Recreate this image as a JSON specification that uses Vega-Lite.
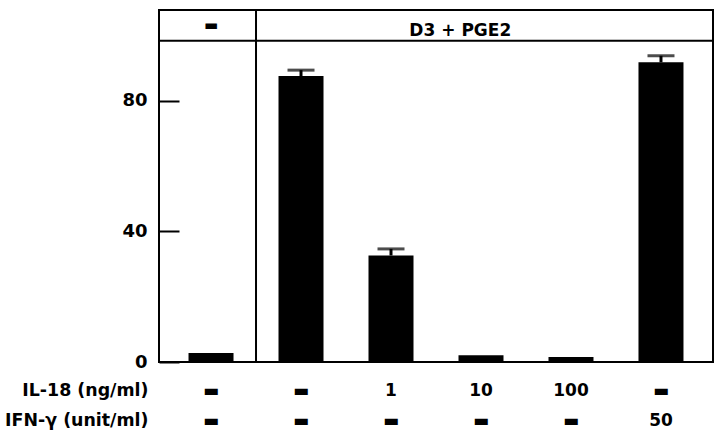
{
  "$schema": "https://vega.github.io/schema/vega-lite/v6.json",
  "width": 554,
  "height": 352,
  "autosize": {"type": "none"},
  "padding": {"left": 159, "top": 10, "right": 7, "bottom": 80},
  "background": "white",
  "config": {
    "view": {"stroke": "black", "strokeWidth": 2},
    "font": "DejaVu Sans"
  },
  "data": {
    "values": [
      {"cond": "ctrl|-|-", "group": "▬", "value": 2.75, "err": null},
      {"cond": "D3|-|-", "group": "D3 + PGE2", "value": 87.5, "err": 89.3},
      {"cond": "D3|1|-", "group": "D3 + PGE2", "value": 32.6, "err": 34.6},
      {"cond": "D3|10|-", "group": "D3 + PGE2", "value": 2.1, "err": null},
      {"cond": "D3|100|-", "group": "D3 + PGE2", "value": 1.5, "err": null},
      {"cond": "D3|-|50", "group": "D3 + PGE2", "value": 91.7, "err": 93.7}
    ]
  },
  "encoding": {
    "x": {
      "field": "cond",
      "type": "nominal",
      "sort": null,
      "scale": {"paddingInner": 0, "paddingOuter": 0.078},
      "axis": {
        "orient": "bottom",
        "ticks": false,
        "domain": false,
        "labelAngle": 0,
        "labelFont": "DejaVu Sans",
        "labelFontWeight": "bold",
        "labelFontSize": 17,
        "labelColor": "black",
        "labelPadding": 20,
        "labelBaseline": "top",
        "labelLineHeight": 30,
        "labelExpr": "[split(datum.label,'|')[1] == '-' ? '▬' : split(datum.label,'|')[1], split(datum.label,'|')[2] == '-' ? '▬' : split(datum.label,'|')[2]]",
        "title": ["IL-18 (ng/ml)", "IFN-γ (unit/ml)"],
        "titleFont": "DejaVu Sans",
        "titleFontWeight": "bold",
        "titleFontSize": 17.4,
        "titleColor": "black",
        "titleAlign": "right",
        "titleBaseline": "top",
        "titleAnchor": "start",
        "titleLineHeight": 30,
        "titleX": -11,
        "titleY": 19.5
      }
    }
  },
  "layer": [
    {
      "mark": {"type": "bar", "color": "black", "size": 45},
      "encoding": {
        "y": {
          "field": "value",
          "type": "quantitative",
          "scale": {"domain": [0, 107.7], "nice": false, "zero": true},
          "axis": {
            "values": [0, 40, 80],
            "grid": false,
            "domain": false,
            "tickSize": -20,
            "tickWidth": 2,
            "tickColor": "black",
            "labelFont": "DejaVu Sans",
            "labelFontWeight": "bold",
            "labelFontSize": 18,
            "labelColor": "black",
            "labelPadding": 32,
            "title": null
          }
        }
      }
    },
    {
      "transform": [{"filter": "datum.err != null"}],
      "mark": {"type": "rule", "color": "black", "strokeWidth": 3},
      "encoding": {
        "y": {"field": "value", "type": "quantitative"},
        "y2": {"field": "err"}
      }
    },
    {
      "transform": [{"filter": "datum.err != null"}],
      "mark": {"type": "tick", "color": "black", "size": 27, "thickness": 3, "orient": "horizontal"},
      "encoding": {
        "y": {"field": "err", "type": "quantitative"}
      }
    },
    {
      "transform": [{"filter": "datum.cond == 'D3|-|-'"}],
      "mark": {"type": "rule", "color": "black", "strokeWidth": 2},
      "encoding": {
        "x": {"field": "cond", "type": "nominal", "sort": null, "bandPosition": 0}
      }
    },
    {
      "transform": [{"filter": "datum.cond == 'ctrl|-|-'"}],
      "mark": {"type": "rule", "color": "black", "strokeWidth": 2},
      "encoding": {
        "x": {"value": 0},
        "x2": {"value": 554},
        "y": {"datum": 98.3}
      }
    },
    {
      "transform": [{"filter": "datum.cond == 'ctrl|-|-'"}],
      "mark": {"type": "text", "color": "black", "font": "DejaVu Sans", "fontWeight": "bold", "fontSize": 15, "baseline": "middle"},
      "encoding": {
        "y": {"datum": 103},
        "text": {"field": "group"}
      }
    },
    {
      "transform": [{"filter": "datum.cond == 'D3|10|-'"}],
      "mark": {"type": "text", "color": "black", "font": "DejaVu Sans", "fontWeight": "bold", "fontSize": 17, "baseline": "alphabetic"},
      "encoding": {
        "x": {"field": "cond", "type": "nominal", "sort": null, "bandPosition": 0.27},
        "y": {"datum": 99.6},
        "text": {"field": "group"}
      }
    }
  ]
}
